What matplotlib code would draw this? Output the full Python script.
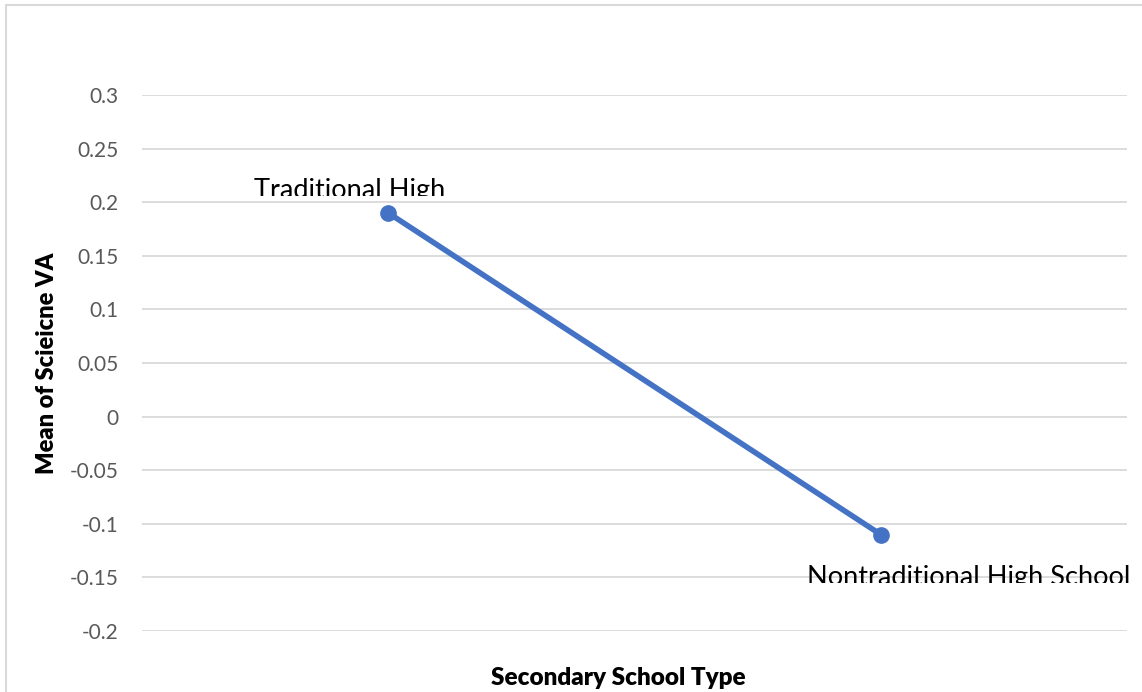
import matplotlib.pyplot as plt
from matplotlib.patches import Rectangle
from matplotlib.transforms import Bbox, TransformedBbox, offset_copy

categories = ['Traditional High', 'Nontraditional High School']
means = [0.19, -0.11]
yticks = [-0.2, -0.15, -0.1, -0.05, 0, 0.05, 0.1, 0.15, 0.2, 0.25, 0.3]
ytick_labels = ['-0.2', '-0.15', '-0.1', '-0.05', '0', '0.05', '0.1', '0.15', '0.2', '0.25', '0.3']

plt.rcParams['font.family'] = ['Lato', 'DejaVu Sans']

W, H = 1142, 692
fig = plt.figure(figsize=(W / 100, H / 100), dpi=100)
ax = fig.add_axes([142 / W, (H - 631) / H, (1127 - 142) / W, (631 - 95) / H])

# chart frame (only top and left edges fall inside the image)
fig.patches.append(Rectangle((6 / W, -0.1), 1.2, (H - 5) / H + 0.1, transform=fig.transFigure,
                             fill=False, edgecolor='#d9d9d9', linewidth=1.5))

x = list(range(len(categories)))
ax.plot(x, means, color='#4472C4', linewidth=4, marker='o', markersize=11,
        solid_capstyle='round', zorder=3)

ax.set_xlim(-0.5, 1.5)
ax.set_ylim(-0.2, 0.3)
ax.set_yticks(yticks)
ax.set_yticklabels(ytick_labels)
ax.set_xticks([])
ax.grid(axis='y', color='#d9d9d9', linewidth=1.3)
ax.set_axisbelow(True)
for s in ax.spines.values():
    s.set_visible(False)
ax.tick_params(axis='y', length=0, pad=17, labelsize=15, labelcolor='#595959')

ax.set_ylabel('Mean of Scieicne VA', fontsize=17, fontweight='heavy', labelpad=8)
ax.set_xlabel('Secondary School Type', fontsize=17.5, fontweight='heavy', labelpad=26)
ax.xaxis.label.set_x(0.484)

# data labels, cut off just under their baselines
label_offsets = [(-134, 15, 17), (-74, -50, -48)]
for xi, yi, name, (dx, dy, clip_dy) in zip(x, means, categories, label_offsets):
    t = ax.annotate(name, (xi, yi), xytext=(dx, dy), textcoords='offset pixels',
                    ha='left', va='baseline', fontsize=19.5, color='black',
                    annotation_clip=False)
    clip_tr = offset_copy(ax.transData, fig=fig, y=clip_dy, units='dots')
    t.set_clip_box(TransformedBbox(Bbox([[xi - 2, yi], [xi + 2, yi + 5]]), clip_tr))
    t.set_clip_on(True)

fig.savefig('out.png', dpi=100)
